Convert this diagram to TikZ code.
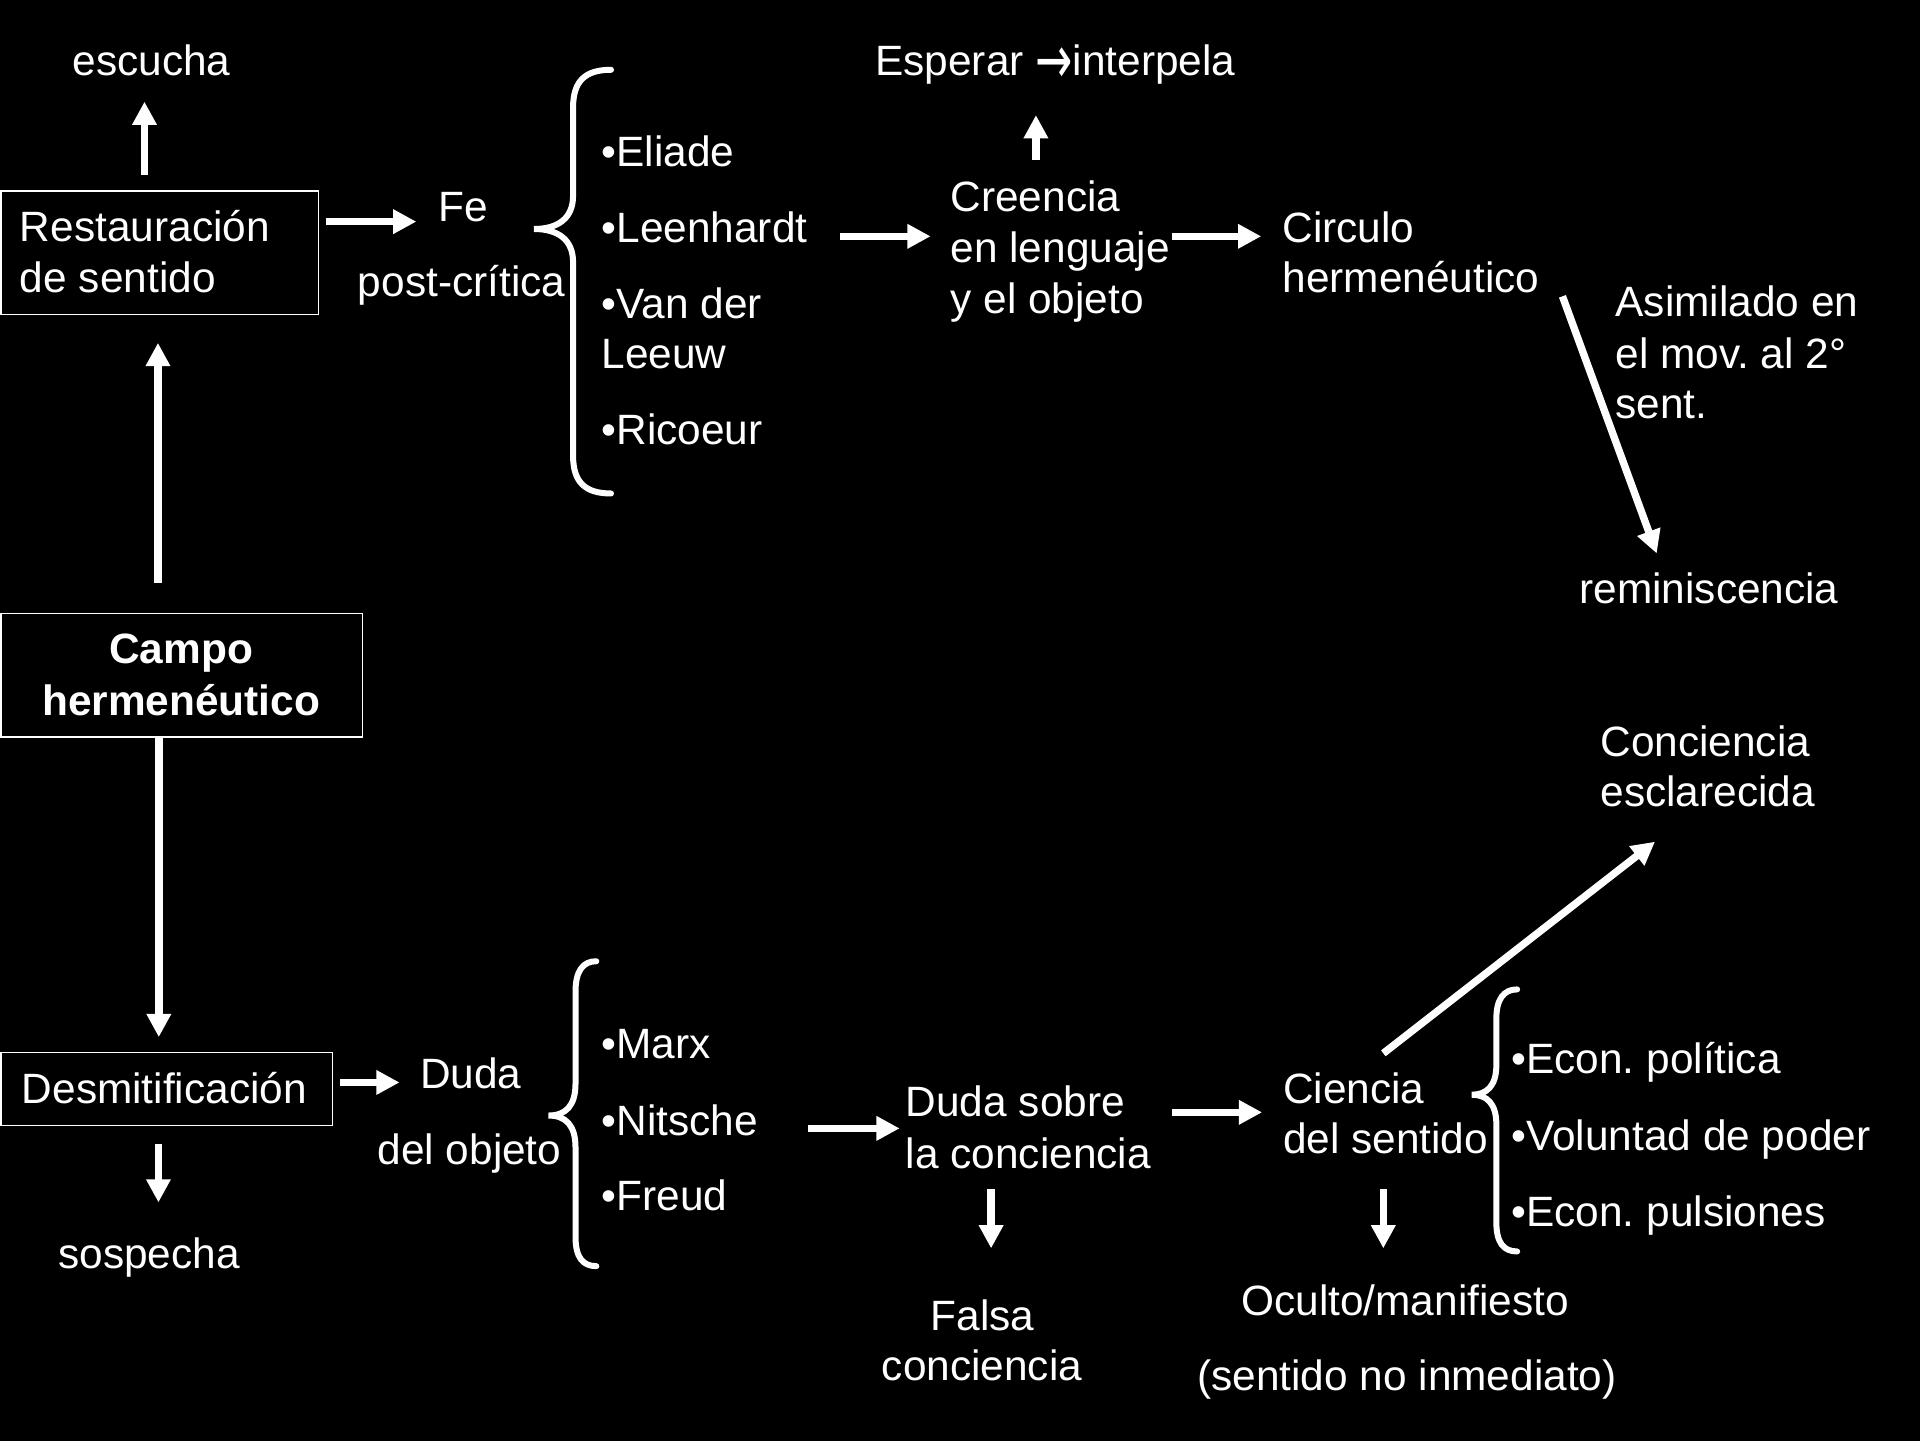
\documentclass[tikz,border=0pt]{standalone}
\usepackage{fontspec}
\setmainfont{Liberation Sans}
\newfontfamily\arrowfont{DejaVu Sans}
\usetikzlibrary{arrows.meta}
\frenchspacing
\tikzset{
  txt/.style={text=white, inner sep=0pt, anchor=base west, font=\fontsize{21.2pt}{25.1pt}\selectfont},
  ctxt/.style={txt, anchor=base},
  btxt/.style={txt, anchor=base, font=\fontsize{21.2pt}{25.1pt}\selectfont\bfseries},
  boxline/.style={draw=white, line width=0.75pt},
  arr/.style={draw=white, line width=3.7pt, -{Triangle[length=11.6pt,width=11.6pt]}},
  bracel/.style={draw=white, line width=3pt, line cap=round}
}
\begin{document}
\begin{tikzpicture}[x=0.61224pt, y=-0.61224pt]
\useasboundingbox (0,0) rectangle (1568,1176);
\fill[black] (-10,-10) rectangle (1580,1190);

% ---------- upper branch ----------
\node[txt] (escucha) at (59,62) {escucha};
\coordinate (escS) at (118,143); \coordinate (escE) at (118,83);
\draw[arr] (escS) -- (escE);

\draw[boxline] (1,156) rectangle (260,257);
\node[txt] (rest1) at (16,197.5) {Restauración};
\node[txt] (rest2) at (16,238.5) {de sentido};

\coordinate (feS) at (266,181); \coordinate (feE) at (340,181);
\draw[arr] (feS) -- (feE);
\node[txt] (fe1) at (358,180.5) {Fe};
\node[txt] (fe2) at (292,242) {post-crítica};

\draw[bracel] (499,57) .. controls (478,57) and (468,66) .. (468,88) -- (468,160)
  .. controls (468,178) and (456,187) .. (436,187)
  .. controls (456,187) and (468,196) .. (468,214) -- (468,372)
  .. controls (468,394) and (478,403) .. (499,403);

\node[txt] (eliade) at (491,136) {•Eliade};
\node[txt] (leen) at (491,198) {•Leenhardt};
\node[txt] (van1) at (491,260) {•Van der};
\node[txt] (van2) at (491,301) {Leeuw};
\node[txt] (ric) at (491,363) {•Ricoeur};

\coordinate (crS) at (686,193); \coordinate (crE) at (760,193);
\draw[arr] (crS) -- (crE);
\node[txt] (cr1) at (776,173) {Creencia};
\node[txt] (cr2) at (776,214) {en lenguaje};
\node[txt] (cr3) at (776,256) {y el objeto};

\coordinate (espS) at (846,131); \coordinate (espE) at (846,94);
\draw[arr] (espS) -- (espE);
\node[txt] (esp) at (714.5,62) {Esperar \raisebox{-0.17em}{\scalebox{1.05}[1.6]{\arrowfont →}}interpela};

\coordinate (ciS) at (957,193); \coordinate (ciE) at (1030,193);
\draw[arr] (ciS) -- (ciE);
\node[txt] (ci1) at (1047,198) {Circulo};
\node[txt] (ci2) at (1047,239) {hermenéutico};

\coordinate (remS) at (1276,242); \coordinate (remE) at (1353,452);
\draw[arr] (remS) -- (remE);
\node[txt] (as1) at (1319,258.6) {Asimilado en};
\node[txt] (as2) at (1319,300.8) {el mov. al 2°};
\node[txt] (as3) at (1319,341.6) {sent.};
\node[txt] (rem) at (1289.5,492.7) {reminiscencia};

% ---------- centre ----------
\coordinate (campoUpS) at (129,476); \coordinate (campoUpE) at (129,280);
\draw[arr] (campoUpS) -- (campoUpE);
\draw[boxline] (1,501) rectangle (296,602);
\node[btxt] (campo1) at (148,541.7) {Campo};
\node[btxt] (campo2) at (148,584.7) {hermenéutico};
\coordinate (campoDnS) at (129.7,602); \coordinate (campoDnE) at (129.7,847);
\draw[arr] (campoDnS) -- (campoDnE);

% ---------- lower branch ----------
\draw[boxline] (1,859.4) rectangle (271.6,919.3);
\node[txt] (desm) at (17.5,901) {Desmitificación};

\coordinate (dudaS) at (277.7,884); \coordinate (dudaE) at (326.3,884);
\draw[arr] (dudaS) -- (dudaE);
\node[txt] (duda1) at (342.7,888.8) {Duda};
\node[txt] (duda2) at (308,951.4) {del objeto};

\coordinate (sosS) at (129.4,934); \coordinate (sosE) at (129.4,982);
\draw[arr] (sosS) -- (sosE);
\node[txt] (sos) at (47.4,1035.8) {sospecha};

\draw[bracel] (487,785) .. controls (476,785) and (470,793) .. (470,810) -- (470,885)
  .. controls (470,903) and (462,911) .. (448,911)
  .. controls (462,911) and (470,919) .. (470,937) -- (470,1010)
  .. controls (470,1027) and (476,1034) .. (487,1034);

\node[txt] (marx) at (491,864.3) {•Marx};
\node[txt] (nit) at (491,927) {•Nitsche};
\node[txt] (freud) at (491,988.7) {•Freud};

\coordinate (dsS) at (660,921.5); \coordinate (dsE) at (734.7,921.5);
\draw[arr] (dsS) -- (dsE);
\node[txt] (ds1) at (739.4,912) {Duda sobre};
\node[txt] (ds2) at (739.4,954.2) {la conciencia};

\coordinate (faS) at (809.4,971.3); \coordinate (faE) at (809.4,1019.5);
\draw[arr] (faS) -- (faE);
\node[ctxt] (fa1) at (802.5,1086.2) {Falsa};
\node[ctxt] (fa2) at (802,1127) {conciencia};

\coordinate (csS) at (957,908.4); \coordinate (csE) at (1030.7,908.4);
\draw[arr] (csS) -- (csE);
\node[txt] (cs1) at (1047.5,901) {Ciencia};
\node[txt] (cs2) at (1047.5,941.9) {del sentido};

\coordinate (ceS) at (1129.7,860.2); \coordinate (ceE) at (1351.6,687.4);
\draw[arr] (ceS) -- (ceE);
\node[txt] (ce1) at (1306.7,617.4) {Conciencia};
\node[txt] (ce2) at (1306.7,658.8) {esclarecida};

\draw[bracel] (1239,808) .. controls (1228,808) and (1222,816) .. (1222,832) -- (1222,870)
  .. controls (1222,887) and (1214,894) .. (1202,894)
  .. controls (1214,894) and (1222,901) .. (1222,918) -- (1222,998)
  .. controls (1222,1015) and (1228,1022) .. (1239,1022);

\node[txt] (ec1) at (1234,876.6) {•Econ. política};
\node[txt] (ec2) at (1234,939.2) {•Voluntad de poder};
\node[txt] (ec3) at (1234,1001.3) {•Econ. pulsiones};

\coordinate (ocS) at (1129.7,971.3); \coordinate (ocE) at (1129.7,1019.5);
\draw[arr] (ocS) -- (ocE);
\node[txt] (oc1) at (1013.4,1074) {Oculto/manifiesto};
\node[txt] (oc2) at (977.3,1135.2) {(sentido no inmediato)};
\end{tikzpicture}
\end{document}
